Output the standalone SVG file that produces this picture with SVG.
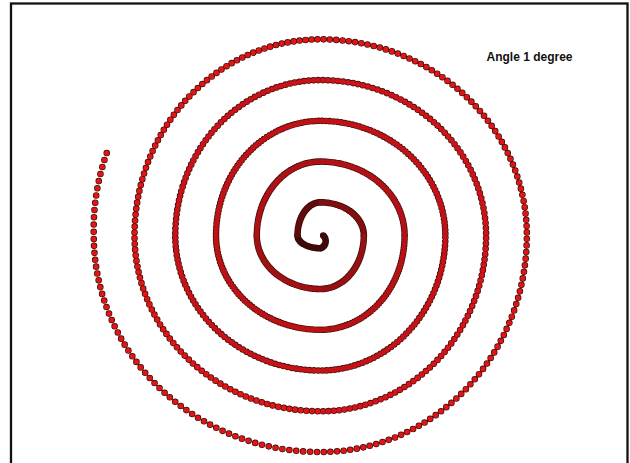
<svg xmlns="http://www.w3.org/2000/svg" xmlns:xlink="http://www.w3.org/1999/xlink" width="630" height="463" viewBox="0 0 630 463">
<style>
.o{fill:none;stroke:#3a0c0a;stroke-width:6.6;stroke-linecap:round;stroke-dasharray:0 1;stroke-dashoffset:0.5}
.f{fill:none;stroke:#e01515;stroke-width:5.2;stroke-linecap:round;stroke-dasharray:0 1;stroke-dashoffset:0.5}
.lbl{font-family:"Liberation Sans",Arial,sans-serif;font-weight:bold;font-size:12px;fill:#111}
</style>
<defs>
<path id="s0" pathLength="50" d="M323.1,235.5 A7.5,7.5 0 0 1 320.5,248.29"/>
<path id="s1" pathLength="50" d="M320.5,248.29 A22.98,12.79 0 0 1 297.52,235.5"/>
<path id="s2" pathLength="50" d="M297.52,235.5 A22.98,33.16 0 0 1 320.5,202.34"/>
<path id="s3" pathLength="50" d="M320.5,202.34 A43.35,33.16 0 0 1 363.85,235.5"/>
<path id="s4" pathLength="50" d="M363.85,235.5 A43.35,53.54 0 0 1 320.5,289.04"/>
<path id="s5" pathLength="50" d="M320.5,289.04 A63.73,53.54 0 0 1 256.77,235.5"/>
<path id="s6" pathLength="50" d="M256.77,235.5 A63.73,73.92 0 0 1 320.5,161.58"/>
<path id="s7" pathLength="50" d="M320.5,161.58 A84.1,73.92 0 0 1 404.6,235.5"/>
<path id="s8" pathLength="50" d="M404.6,235.5 A84.1,94.29 0 0 1 320.5,329.79"/>
<path id="s9" pathLength="50" d="M320.5,329.79 A104.48,94.29 0 0 1 216.02,235.5"/>
<path id="s10" pathLength="50" d="M216.02,235.5 A104.48,114.67 0 0 1 320.5,120.83"/>
<path id="s11" pathLength="50" d="M320.5,120.83 A124.86,114.67 0 0 1 445.36,235.5"/>
<path id="s12" pathLength="50" d="M445.36,235.5 A124.86,135.04 0 0 1 320.5,370.54"/>
<path id="s13" pathLength="50" d="M320.5,370.54 A145.23,135.04 0 0 1 175.27,235.5"/>
<path id="s14" pathLength="50" d="M175.27,235.5 A145.23,155.42 0 0 1 320.5,80.08"/>
<path id="s15" pathLength="50" d="M320.5,80.08 A165.61,155.42 0 0 1 486.11,235.5"/>
<path id="s16" pathLength="50" d="M486.11,235.5 A165.61,175.8 0 0 1 320.5,411.3"/>
<path id="s17" pathLength="50" d="M320.5,411.3 A185.98,175.8 0 0 1 134.52,235.5"/>
<path id="s18" pathLength="50" d="M134.52,235.5 A185.98,196.17 0 0 1 320.5,39.33"/>
<path id="s19" pathLength="50" d="M320.5,39.33 A206.36,196.17 0 0 1 526.86,235.5"/>
<path id="s20" pathLength="50" d="M526.86,235.5 A206.36,216.55 0 0 1 320.5,452.05"/>
<path id="s21" pathLength="50" d="M320.5,452.05 A226.74,216.55 0 0 1 93.76,235.5"/>
<path id="s22" pathLength="12" d="M93.76,235.5 A228,228 0 0 1 108,149.6"/>
</defs>
<rect x="0" y="0" width="630" height="463" fill="#fff"/>
<rect id="frame" x="11" y="3.5" width="616.5" height="480" fill="none" stroke="#111" stroke-width="2.3"/>
<g id="spiral-outline" class="o">
<use xlink:href="#s0"/><use xlink:href="#s1"/><use xlink:href="#s2"/><use xlink:href="#s3"/><use xlink:href="#s4"/><use xlink:href="#s5"/><use xlink:href="#s6"/><use xlink:href="#s7"/><use xlink:href="#s8"/><use xlink:href="#s9"/><use xlink:href="#s10"/><use xlink:href="#s11"/><use xlink:href="#s12"/><use xlink:href="#s13"/><use xlink:href="#s14"/><use xlink:href="#s15"/><use xlink:href="#s16"/><use xlink:href="#s17"/><use xlink:href="#s18"/><use xlink:href="#s19"/><use xlink:href="#s20"/><use xlink:href="#s21"/><use xlink:href="#s22"/>
</g>
<g id="spiral-fill" class="f">
<use xlink:href="#s0" style="stroke:#3c0a0a"/>
<use xlink:href="#s1" style="stroke:#3c0a0a"/>
<use xlink:href="#s2" style="stroke:#5f0c0d"/>
<use xlink:href="#s3" style="stroke:#810e10"/>
<use xlink:href="#s4" style="stroke:#971012"/>
<use xlink:href="#s5" style="stroke:#a31013"/>
<use xlink:href="#s6" style="stroke:#ac1114"/>
<use xlink:href="#s7" style="stroke:#b31115"/>
<use xlink:href="#s8" style="stroke:#b81115"/>
<use xlink:href="#s9" style="stroke:#bd1116"/>
<use xlink:href="#s10" style="stroke:#c01216"/>
<use xlink:href="#s11" style="stroke:#c31217"/>
<use xlink:href="#s12" style="stroke:#c51217"/>
<use xlink:href="#s13" style="stroke:#c71217"/>
<use xlink:href="#s14" style="stroke:#c91318"/>
<use xlink:href="#s15" style="stroke:#d01318"/>
<use xlink:href="#s16" style="stroke:#d51318"/>
<use xlink:href="#s17"/><use xlink:href="#s18"/><use xlink:href="#s19"/><use xlink:href="#s20"/><use xlink:href="#s21"/><use xlink:href="#s22"/>
</g>
<text id="label" class="lbl" x="486.5" y="60.5">Angle 1 degree</text>
</svg>
